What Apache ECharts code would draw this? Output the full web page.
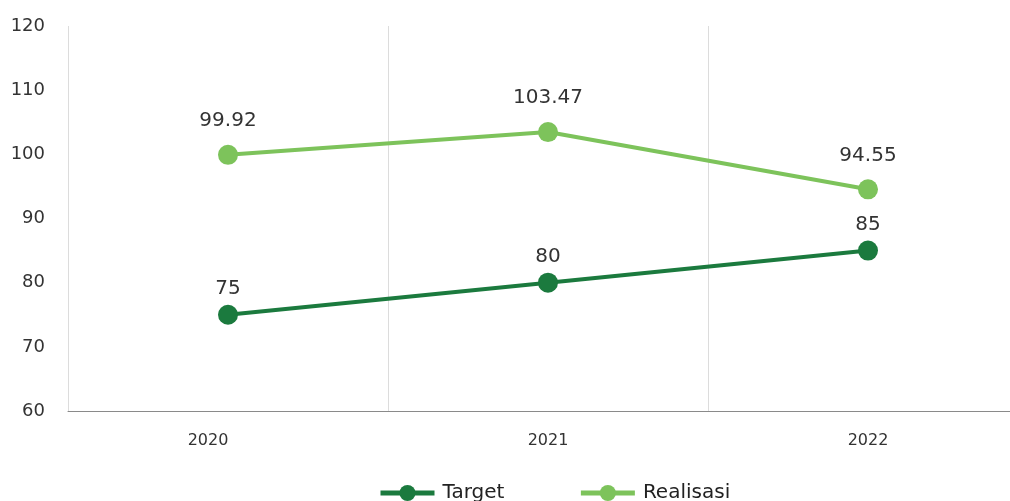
<!DOCTYPE html>
<html>
<head>
<meta charset="utf-8">
<script src="https://cdn.jsdelivr.net/npm/echarts@6/dist/echarts.min.js"></script>
<style>
  html, body { margin: 0; padding: 0; background: #fff; overflow: hidden; }
  #chart { width: 1028px; height: 501px; }
</style>
</head>
<body>
<div id="chart"></div>
<script>
// Yearly target vs. realisation
const years = ['2020', '2021', '2022'];
const target = [75, 80, 85];
const realisasi = [99.92, 103.47, 94.55];
const yMin = 60, yMax = 120, yStep = 10;

const labelFont = 'DejaVu Sans';

const chart = echarts.init(document.getElementById('chart'));
chart.setOption({
  animation: false,
  backgroundColor: '#ffffff',
  grid: { left: 68, right: 0, top: 26, bottom: 90, containLabel: false },
  legend: {
    left: 378,
    top: 483,
    padding: 0,
    itemWidth: 54,
    itemHeight: 20,
    itemGap: 74,
    textStyle: { fontFamily: labelFont, fontSize: 20, color: '#222', padding: [0, 0, 0, 3] },
    data: [
      { name: 'Target', lineStyle: { width: 5 } },
      { name: 'Realisasi', lineStyle: { width: 5 } }
    ]
  },
  xAxis: {
    type: 'category',
    data: years,
    boundaryGap: true,
    axisLine: { lineStyle: { color: '#8a8a8a', width: 1 } },
    axisTick: { show: false },
    axisLabel: {
      margin: 22,
      formatter: (v, i) => (i === 0 ? '{first|' + v + '}' : '{base|' + v + '}'),
      rich: {
        base: { fontFamily: labelFont, fontSize: 16, color: '#333' },
        first: { fontFamily: labelFont, fontSize: 16, color: '#333', padding: [0, 40, 0, 0] }
      }
    },
    splitLine: { show: true, lineStyle: { color: '#dcdcdc', width: 1 } }
  },
  yAxis: {
    type: 'value',
    min: yMin,
    max: yMax,
    interval: yStep,
    axisLine: { show: false },
    axisTick: { show: false },
    splitLine: { show: false },
    axisLabel: { fontFamily: labelFont, fontSize: 18, color: '#333', margin: 23 }
  },
  series: [
    {
      name: 'Target',
      type: 'line',
      data: target,
      symbol: 'circle',
      symbolSize: 20,
      itemStyle: { color: '#1b7a3e' },
      lineStyle: { color: '#1b7a3e', width: 4 },
      label: {
        show: true, position: 'top', distance: 6,
        fontFamily: labelFont, fontSize: 20, color: '#333'
      }
    },
    {
      name: 'Realisasi',
      type: 'line',
      data: realisasi,
      symbol: 'circle',
      symbolSize: 20,
      itemStyle: { color: '#7dc35b' },
      lineStyle: { color: '#7dc35b', width: 4 },
      label: {
        show: true, position: 'top', distance: 14,
        fontFamily: labelFont, fontSize: 20, color: '#333'
      }
    }
  ]
});
</script>
</body>
</html>
